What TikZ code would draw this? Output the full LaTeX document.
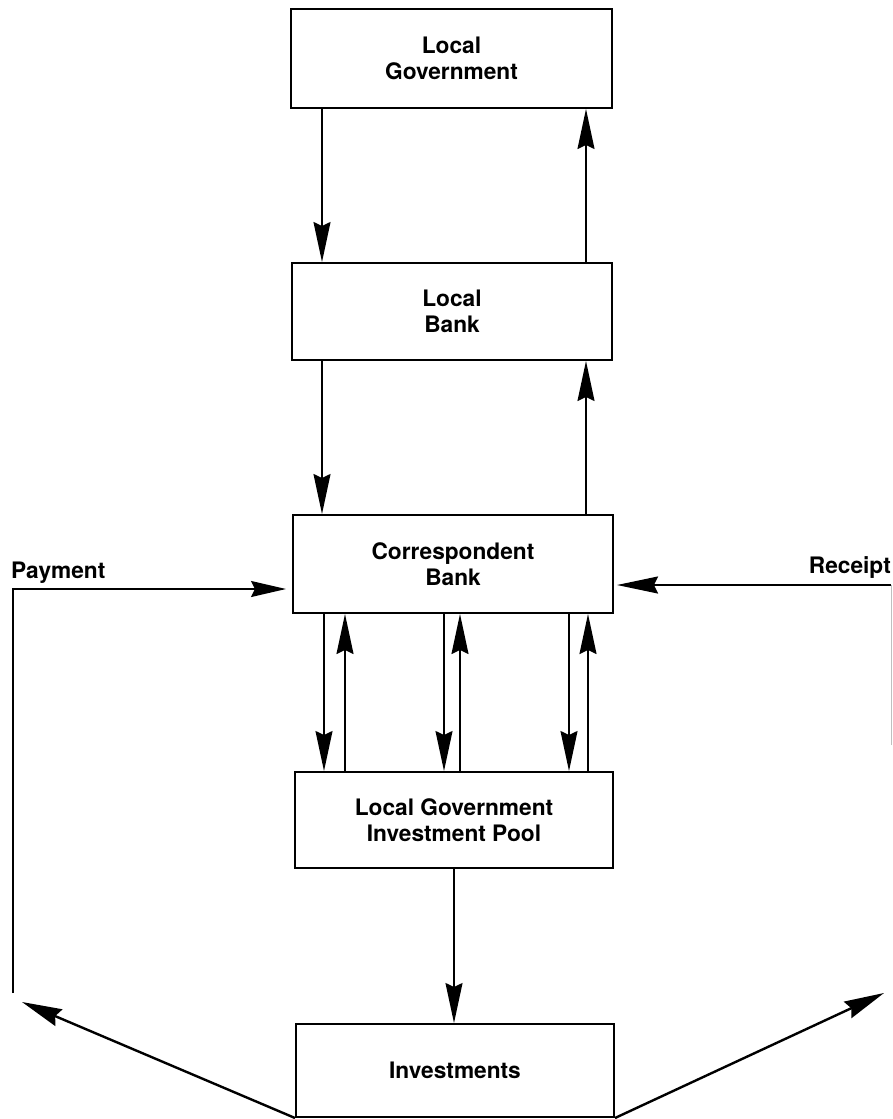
\documentclass[tikz,border=0pt]{standalone}
\usepackage{fontspec}
\setmainfont{TeX Gyre Heros}
\usetikzlibrary{arrows.meta}
\begin{document}
\begin{tikzpicture}[x=1pt,y=-1pt,
  box/.style={draw, line width=2pt, align=center, inner sep=0pt,
    font=\fontsize{22.7}{26}\selectfont\bfseries},
  arr/.style={line width=1.6pt, -{Stealth[length=40pt,width=17pt,inset=4pt]}},
  diag/.style={line width=2.4pt, -{Stealth[length=40pt,width=18pt,inset=4pt]}},
  lbl/.style={inner sep=0pt, font=\fontsize{22.7}{26}\selectfont\bfseries}]
\useasboundingbox (0,0) rectangle (892,1119);
\fill[white] (0,0) rectangle (892,1119);
% boxes
\node[box, minimum width=321pt, minimum height=99pt] (lg) at (451.5,58.5) {Local\\Government};
\node[box, minimum width=320pt, minimum height=97pt] (lb) at (452,311.5) {Local\\Bank};
\node[box, minimum width=320pt, minimum height=98pt] (cb) at (453,564) {Correspondent\\Bank};
\node[box, minimum width=318pt, minimum height=96pt] (pool) at (454,820) {Local Government\\Investment Pool};
\node[box, minimum width=318pt, minimum height=93pt] (inv) at (455,1070.5) {Investments};
% columns
\coordinate (xa) at (322,0);
\coordinate (xb) at (586,0);
\coordinate (x1) at (324,0);
\coordinate (x2) at (345,0);
\coordinate (x3) at (444,0);
\coordinate (x4) at (460,0);
\coordinate (x5) at (569,0);
\coordinate (x6) at (588,0);
\coordinate (x7) at (454,0);
% vertical flows
\draw[arr] (lg.south -| xa) -- (lb.north -| xa);
\draw[arr] (lb.north -| xb) -- (lg.south -| xb);
\draw[arr] (lb.south -| xa) -- (cb.north -| xa);
\draw[arr] (cb.north -| xb) -- (lb.south -| xb);
\draw[arr] (cb.south -| x1) -- (pool.north -| x1);
\draw[arr] (pool.north -| x2) -- (cb.south -| x2);
\draw[arr] (cb.south -| x3) -- (pool.north -| x3);
\draw[arr] (pool.north -| x4) -- (cb.south -| x4);
\draw[arr] (cb.south -| x5) -- (pool.north -| x5);
\draw[arr] (pool.north -| x6) -- (cb.south -| x6);
\draw[arr] (pool.south -| x7) -- (inv.north -| x7);
% payment
\coordinate (pb) at (13,993);
\coordinate (py) at (13,589);
\draw[line width=1.8pt, -{Stealth[length=35pt,width=16pt,inset=4pt]}, shorten >=6pt]
  (pb) -- (py) -- (cb.west |- py);
\node[lbl, anchor=base west] (pay) at (11,578) {Payment};
% receipt
\coordinate (rt) at (891,585);
\coordinate (rb) at (891,745);
\draw[line width=0.8pt, black!25] (rb) -- (rt);
\draw[line width=1.8pt, -{Stealth[length=41pt,width=17pt,inset=4pt]}, shorten >=3pt]
  (rt) -- (cb.east |- rt);
\node[lbl, anchor=base east] (rec) at (891,573) {Receipt};
% diagonals
\coordinate (lt) at (22,1002);
\coordinate (rtip) at (884,993);
\draw[diag] (inv.south west) -- (lt);
\draw[diag] (inv.south east) -- (rtip);
\end{tikzpicture}
\end{document}
